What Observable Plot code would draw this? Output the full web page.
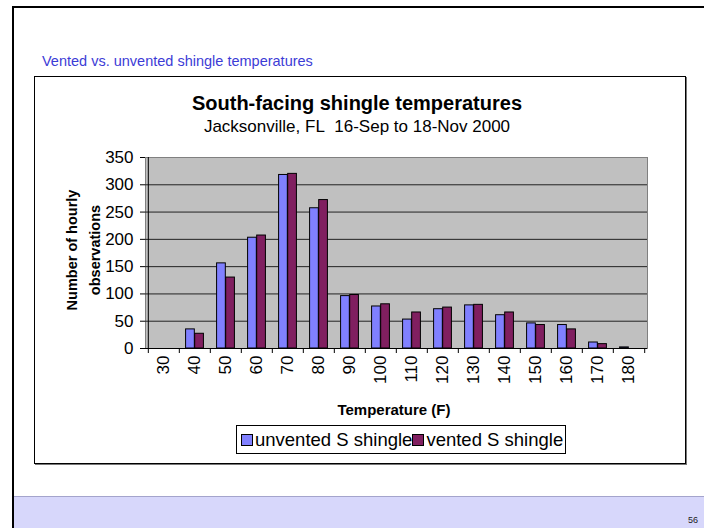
<!DOCTYPE html>
<html>
<head>
<meta charset="utf-8">
<script src="https://cdn.jsdelivr.net/npm/d3@7"></script>
<script src="https://cdn.jsdelivr.net/npm/@observablehq/plot@0.6"></script>
<style>
  html, body { margin: 0; padding: 0; background: #fff; }
  body { width: 704px; height: 528px; position: relative; overflow: hidden;
         font-family: "Liberation Sans", Arial, sans-serif; }
  .abs { position: absolute; }
  #slide { left: 12px; top: 6px; right: -20px; bottom: -20px; border: 2px solid #000; }
  #band { left: 14px; top: 496px; right: 0; height: 40px; background: #d7d7fb; border-top: 1px solid #a4a4cc; }
  #page { left: 688px; top: 515px; font-size: 9px; color: #222; }
  #heading { left: 42px; top: 53px; font-size: 14.5px; color: #3c3cd6; white-space: nowrap; }
  #box { left: 34px; top: 76px; width: 650px; height: 386px; border: 1px solid #000;
         box-shadow: 1px 1px 0 #777; background: #fff; }
  #chart { left: 0; top: 0; }
  .title { left: 0; width: 714px; text-align: center; white-space: nowrap; color: #000; }
  #t1 { top: 92px; font-size: 20px; font-weight: bold; }
  #t2 { top: 117px; font-size: 17px; }
  #ylab { left: 84px; top: 250px; width: 0; height: 0; }
  #ylab div { position: absolute; transform: translate(-50%, -50%) rotate(-90deg);
              font-weight: bold; font-size: 14.5px; line-height: 23px; text-align: center; white-space: nowrap; }
  #xlab { left: 0; width: 788px; top: 401px; text-align: center; font-weight: bold; font-size: 15px; }
  #legend { left: 236px; top: 425px; height: 27px; border: 1px solid #000; background: #fff;
            display: flex; align-items: center; padding: 0 2px 0 4px; font-size: 18.5px; white-space: nowrap; }
  .sw { display: inline-block; width: 10px; height: 10px; border: 1px solid #000; margin-right: 2px; }
</style>
</head>
<body>
<div id="slide" class="abs"></div>
<div id="band" class="abs"></div>
<div id="page" class="abs">56</div>
<div id="heading" class="abs">Vented vs. unvented shingle temperatures</div>
<div id="box" class="abs"></div>
<div id="chart" class="abs"></div>
<div id="t1" class="abs title">South-facing shingle temperatures</div>
<div id="t2" class="abs title">Jacksonville, FL&nbsp;&nbsp;16-Sep to 18-Nov 2000</div>
<div id="ylab" class="abs"><div>Number of hourly<br>observations</div></div>
<div id="xlab" class="abs">Temperature (F)</div>
<div id="legend" class="abs"></div>
<script>
// Temperature bins (°F) and hourly observation counts per bin
const temps = ["30", "40", "50", "60", "70", "80", "90", "100", "110", "120", "130", "140", "150", "160", "170", "180"];
const unvented = [0, 35, 156, 203, 318, 257, 96, 77, 53, 72, 79, 61, 46, 43, 11, 2];
const vented = [0, 27, 130, 207, 320, 272, 98, 81, 66, 75, 80, 66, 43, 35, 8, 0];
const seriesNames = ["unvented S shingle", "vented S shingle"];
const seriesColors = ["#8080ff", "#801f60"];
const yTicks = [0, 50, 100, 150, 200, 250, 300, 350];

const rows = temps.flatMap((t, i) => [
  {temp: t, series: seriesNames[0], count: unvented[i]},
  {temp: t, series: seriesNames[1], count: vented[i]}
]);

const W = 704, H = 528;
const mL = 145, mR = 57, mT = 157, mB = 180;
const step = (W - mL - mR) / temps.length;
const outerGap = step * 0.21, barW = step * 0.29;

const chart = Plot.plot({
  width: W, height: H,
  marginLeft: mL, marginRight: mR, marginTop: mT, marginBottom: mB,
  style: {fontFamily: "Liberation Sans, Arial, sans-serif", fontSize: "17px", color: "#000", background: "transparent"},
  x: {type: "band", domain: temps, paddingInner: 0, paddingOuter: 0, axis: null},
  y: {domain: [0, 350], axis: null},
  color: {domain: seriesNames, range: seriesColors},
  marks: [
    Plot.frame({fill: "#c0c0c0", stroke: "#808080"}),
    Plot.gridY(yTicks.filter(d => d > 0 && d < 350), {stroke: "#222", strokeOpacity: 1, strokeWidth: 1}),
    Plot.barY(rows.filter(d => d.series === seriesNames[0]), {
      x: "temp", y: "count", fill: "series", stroke: "#000", strokeWidth: 1,
      insetLeft: outerGap, insetRight: step - outerGap - barW
    }),
    Plot.barY(rows.filter(d => d.series === seriesNames[1]), {
      x: "temp", y: "count", fill: "series", stroke: "#000", strokeWidth: 1,
      insetLeft: step - outerGap - barW, insetRight: outerGap
    }),
    Plot.ruleY([0], {stroke: "#000"}),
    Plot.ruleX([temps[0]], {y1: 0, y2: 350, stroke: "#000", dx: -step / 2}),
    Plot.axisY({ticks: yTicks, tickSize: 5, tickPadding: 7, fontSize: 17, stroke: "#000", label: null}),
    Plot.axisX({tickSize: 5, tickFormat: () => "", dx: -step / 2, stroke: "#000", label: null}),
    Plot.axisX({ticks: [temps[temps.length - 1]], tickSize: 5, tickFormat: () => "", dx: step / 2, stroke: "#000", label: null}),
    Plot.axisX({tickSize: 0, tickPadding: 7, tickRotate: -90, fontSize: 17, label: null})
  ]
});
document.getElementById("chart").appendChild(chart);

// Legend: swatch + series name, side by side
const legend = document.getElementById("legend");
seriesNames.forEach((name, i) => {
  const sw = document.createElement("span");
  sw.className = "sw";
  sw.style.background = seriesColors[i];
  legend.appendChild(sw);
  legend.appendChild(document.createTextNode(name));
});
</script>
</body>
</html>
